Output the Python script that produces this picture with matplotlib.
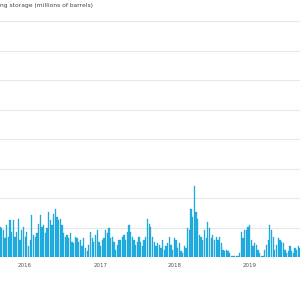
import numpy as np
import pandas as pd
import matplotlib
matplotlib.use('Agg')
import matplotlib.pyplot as plt
import matplotlib.dates as mdates

# floating storage, millions of barrels, Sep 2015 -> Sep 2019
storage_2015_2017 = [
    10.2, 9.7, 9.1, 6.3, 10.8, 6.9, 12.4, 8.6, 12.7, 6.9,
    8.6, 13.0, 5.8, 9.1, 10.2, 6.9, 8.6, 3.6, 5.8, 14.1,
    7.4, 6.9, 8.0, 11.3, 14.1, 10.2, 10.8, 8.0, 9.7, 15.2,
    12.4, 10.8, 14.7, 16.3, 13.6, 12.4, 13.0, 10.8, 8.0, 6.9,
    7.4, 6.3, 8.0, 5.2, 4.7, 6.9, 6.3, 5.2, 5.8, 3.6,
    6.3, 3.0, 1.9, 4.1, 8.6, 6.3, 5.2, 7.4, 9.1, 5.2,
    3.6, 5.8, 6.3, 9.1, 8.0, 9.7, 6.3, 6.9, 5.2, 2.4,
    4.1, 5.8, 5.8, 6.9, 7.4, 5.8, 8.6, 10.8, 8.6, 6.9,
    5.8, 4.1, 5.2, 6.9, 5.2, 3.6, 5.8, 6.9, 13.0, 11.3,
]
storage_2017_2019 = [
    10.2, 6.9, 5.2, 3.6, 4.7, 4.1, 3.0, 5.8, 2.4, 3.6,
    4.7, 6.9, 4.1, 2.4, 6.3, 5.8, 3.0, 4.7, 1.9, 1.3,
    3.6, 3.0, 9.7, 9.1, 16.3, 13.6, 24.1, 15.2, 13.0, 7.4,
    6.9, 5.8, 9.1, 6.3, 11.9, 9.7, 6.3, 7.4, 5.8, 6.9,
    5.8, 6.9, 4.7, 2.4, 1.9, 2.4, 1.9, 1.3, 0.4, 0.4,
    0.4, 0.4, 0.4, 1.3, 8.6, 6.3, 9.1, 9.1, 10.2, 10.8,
    5.8, 3.6, 4.7, 4.1, 2.4, 1.3, 0.4, 0.4, 2.4, 4.1,
    5.8, 10.8, 9.1, 6.9, 2.4, 4.1, 6.3, 5.8, 5.2, 4.7,
    2.4, 1.3, 1.9, 3.6, 1.9, 1.3, 3.0, 2.4, 3.6, 3.0,
]
years = ['2016', '2017', '2018', '2019']
title = 'ng storage (millions of barrels)'

values = np.array(storage_2015_2017 + storage_2017_2019)
dates = pd.date_range('2015-09-01', '2019-09-01', periods=len(values))
x = mdates.date2num(dates)

fig = plt.figure(figsize=(3, 3), dpi=100)
ax = fig.add_axes([0, 43 / 300, 1, 236 / 300])

ax.bar(x, values, width=6.2, color='#22b2e5', edgecolor='#1797cc',
       linewidth=0.2, zorder=2)

ax.set_xlim(mdates.date2num(pd.Timestamp('2015-09-01')),
            mdates.date2num(pd.Timestamp('2019-09-01')))
ax.set_ylim(0, 80)
ax.set_yticks(np.arange(0, 81, 10))
ax.set_yticklabels([])
ax.grid(axis='y', color='#e8e8e8', linewidth=0.8, zorder=0)
ax.tick_params(axis='y', length=0)

ax.set_xticks([mdates.date2num(pd.Timestamp(y + '-01-01')) for y in years])
ax.set_xticklabels(years, fontsize=4, color='#555555')
ax.tick_params(axis='x', length=0, pad=4)

for s in ax.spines.values():
    s.set_visible(False)

fig.text(0.0, 0.98, title, fontsize=4.3, color='#444444', va='center', ha='left')

fig.savefig('out.png', dpi=100, facecolor='white')
